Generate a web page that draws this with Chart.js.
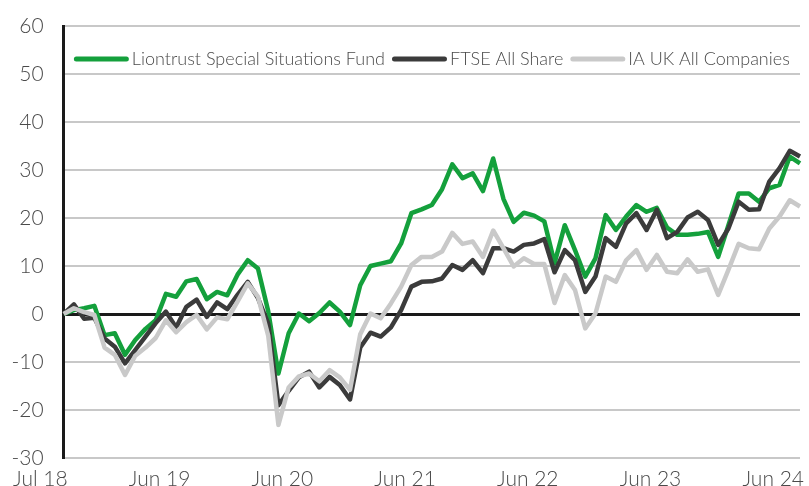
<!DOCTYPE html>
<html lang="en">
  <head>
    <meta charset="UTF-8" />
    <title>Liontrust Special Situations Fund</title>
    <style>
      body { margin: 0; background: #fff; }
      canvas { display: block; }
    </style>
  </head>
  <body>
    <canvas id="chart" width="809" height="486"></canvas>
    <script src="https://cdn.jsdelivr.net/npm/chart.js"></script>
    <script>
      const months = [
        'Jul 18', 'Aug 18', 'Sep 18', 'Oct 18', 'Nov 18', 'Dec 18',
        'Jan 19', 'Feb 19', 'Mar 19', 'Apr 19', 'May 19', 'Jun 19',
        'Jul 19', 'Aug 19', 'Sep 19', 'Oct 19', 'Nov 19', 'Dec 19',
        'Jan 20', 'Feb 20', 'Mar 20', 'Apr 20', 'May 20', 'Jun 20',
        'Jul 20', 'Aug 20', 'Sep 20', 'Oct 20', 'Nov 20', 'Dec 20',
        'Jan 21', 'Feb 21', 'Mar 21', 'Apr 21', 'May 21', 'Jun 21',
        'Jul 21', 'Aug 21', 'Sep 21', 'Oct 21', 'Nov 21', 'Dec 21',
        'Jan 22', 'Feb 22', 'Mar 22', 'Apr 22', 'May 22', 'Jun 22',
        'Jul 22', 'Aug 22', 'Sep 22', 'Oct 22', 'Nov 22', 'Dec 22',
        'Jan 23', 'Feb 23', 'Mar 23', 'Apr 23', 'May 23', 'Jun 23',
        'Jul 23', 'Aug 23', 'Sep 23', 'Oct 23', 'Nov 23', 'Dec 23',
        'Jan 24', 'Feb 24', 'Mar 24', 'Apr 24', 'May 24', 'Jun 24',
        'Jul 24'
      ];
      // axis labels shown every 12 points
      const tickLabels = ['Jul 18', 'Jun 19', 'Jun 20', 'Jun 21', 'Jun 22', 'Jun 23', 'Jun 24'];
      const tickEvery = 12;

      const liontrust = [
        0, 0.8, 1.2, 1.7, -4.4, -4.0, -8.5, -5.4, -3.1, -1.3, 4.2, 3.6,
        6.8, 7.3, 3.1, 4.6, 3.9, 8.2, 11.2, 9.5, 0.6, -12.4, -4.0, 0.1,
        -1.5, 0.2, 2.4, 0.5, -2.3, 6.0, 10.0, 10.5, 11.0, 14.7, 21.0, 21.8,
        22.7, 26.0, 31.2, 28.3, 29.3, 25.6, 32.4, 24.0, 19.2, 21.1, 20.5, 19.3,
        10.6, 18.5, 13.3, 7.8, 11.6, 20.6, 17.5, 20.3, 22.7, 21.3, 22.1, 18.0,
        16.5, 16.5, 16.7, 17.1, 11.9, 18.5, 25.1, 25.1, 23.4, 26.2, 26.9, 32.8,
        31.4
      ];
      const ftseAllShare = [
        0, 2.0, -1.0, -0.8, -5.1, -6.8, -10.3, -7.5, -4.7, -1.9, 0.5, -2.8,
        1.5, 3.0, -0.6, 2.4, 1.0, 4.0, 6.7, 3.3, -2.0, -19.0, -16.0, -13.2,
        -12.0, -15.3, -13.1, -14.8, -17.8, -7.0, -3.9, -4.7, -2.8, 0.8, 5.7, 6.7,
        6.8, 7.4, 10.2, 9.2, 11.2, 8.5, 13.7, 13.7, 13.0, 14.4, 14.7, 15.6,
        8.7, 13.3, 11.2, 4.6, 7.8, 15.8, 14.0, 18.9, 21.0, 17.5, 21.7, 15.8,
        17.1, 20.1, 21.3, 19.6, 14.4, 17.8, 23.4, 21.7, 21.8, 27.6, 30.4, 34.0,
        32.8
      ];
      const iaUkAllCompanies = [
        0, 1.2, 0.4, -0.2, -7.0, -8.5, -12.7, -8.7, -7.0, -5.0, -1.3, -3.8,
        -1.7, -0.2, -3.2, -0.7, -1.1, 2.6, 6.4, 3.6, -4.5, -23.1, -15.3, -13.0,
        -12.4, -14.0, -11.7, -13.2, -15.8, -4.2, 0.1, -0.9, 2.2, 5.7, 10.2, 11.9,
        11.9, 13.0, 16.9, 14.6, 15.1, 11.9, 17.4, 13.7, 9.9, 11.6, 10.4, 10.4,
        2.3, 8.1, 5.0, -3.0, 0.1, 7.8, 6.7, 11.2, 13.3, 9.2, 12.3, 8.8,
        8.5, 11.4, 8.8, 9.3, 4.0, 9.2, 14.6, 13.7, 13.5, 17.8, 20.3, 23.7,
        22.4
      ];

      const FONT = 'Lato, "Open Sans", sans-serif';
      const TEXT = '#4a4a4a';

      // legend drawn inside the plot, just below the top gridline
      const insideLegend = {
        id: 'insideLegend',
        afterDatasetsDraw(chart) {
          const ctx = chart.ctx;
          const area = chart.chartArea;
          const lineLen = 55, gapText = 3, gapItem = 7;
          ctx.save();
          ctx.font = '300 18px ' + FONT;
          const items = chart.data.datasets.map(function (ds) {
            return { ds: ds, w: ctx.measureText(ds.label).width };
          });
          let total = 0;
          items.forEach(function (it) { total += lineLen + gapText + it.w; });
          total += gapItem * (items.length - 1);
          let x = (area.left + area.right) / 2 - total / 2;
          const y = area.top + 33;
          items.forEach(function (it) {
            ctx.strokeStyle = it.ds.borderColor;
            ctx.lineWidth = 5;
            ctx.lineCap = 'round';
            ctx.beginPath();
            ctx.moveTo(x + 2.5, y);
            ctx.lineTo(x + lineLen - 2.5, y);
            ctx.stroke();
            ctx.fillStyle = TEXT;
            ctx.textBaseline = 'middle';
            ctx.textAlign = 'left';
            ctx.fillText(it.ds.label, x + lineLen + gapText, y);
            x += lineLen + gapText + it.w + gapItem;
          });
          ctx.restore();
        }
      };

      const config = {
        type: 'line',
        data: {
          labels: months,
          datasets: [
            { label: 'Liontrust Special Situations Fund', data: liontrust, borderColor: '#14a03c', order: 3 },
            { label: 'FTSE All Share', data: ftseAllShare, borderColor: '#3b3b3b', order: 2 },
            { label: 'IA UK All Companies', data: iaUkAllCompanies, borderColor: '#c9c9c9', order: 1 }
          ]
        },
        options: {
          responsive: false,
          animation: false,
          devicePixelRatio: 1,
          layout: { padding: { top: 26, right: 0, bottom: 0, left: 0 } },
          elements: {
            line: { borderWidth: 4.5, tension: 0, borderJoinStyle: 'round' },
            point: { radius: 0, hoverRadius: 0 }
          },
          plugins: {
            legend: { display: false },
            tooltip: { enabled: false }
          },
          scales: {
            x: {
              afterFit: function (scale) { scale.height = 28; },
              grid: { display: false, drawTicks: false },
              border: { display: false },
              ticks: {
                autoSkip: false,
                maxRotation: 0,
                align: 'end',
                labelOffset: 4,
                padding: 9,
                color: TEXT,
                font: { family: FONT, size: 21, weight: 300 },
                callback: function (value, index) {
                  return index % tickEvery === 0 ? tickLabels[index / tickEvery] : null;
                }
              }
            },
            y: {
              min: -30,
              max: 60,
              afterFit: function (scale) {
                scale.width = 63;
                scale.paddingTop = 0;
                scale.paddingBottom = 0;
              },
              ticks: {
                stepSize: 10,
                padding: 20,
                color: TEXT,
                font: { family: FONT, size: 21, weight: 300 }
              },
              grid: {
                drawTicks: false,
                color: function (c) { return c.tick && c.tick.value === 0 ? '#1a1a1a' : '#c8c8c8'; },
                lineWidth: function (c) { return c.tick && c.tick.value === 0 ? 3 : 2; }
              },
              border: { color: '#1a1a1a', width: 3 }
            }
          }
        },
        plugins: [insideLegend]
      };

      new Chart(document.getElementById('chart'), config);
    </script>
  </body>
</html>
